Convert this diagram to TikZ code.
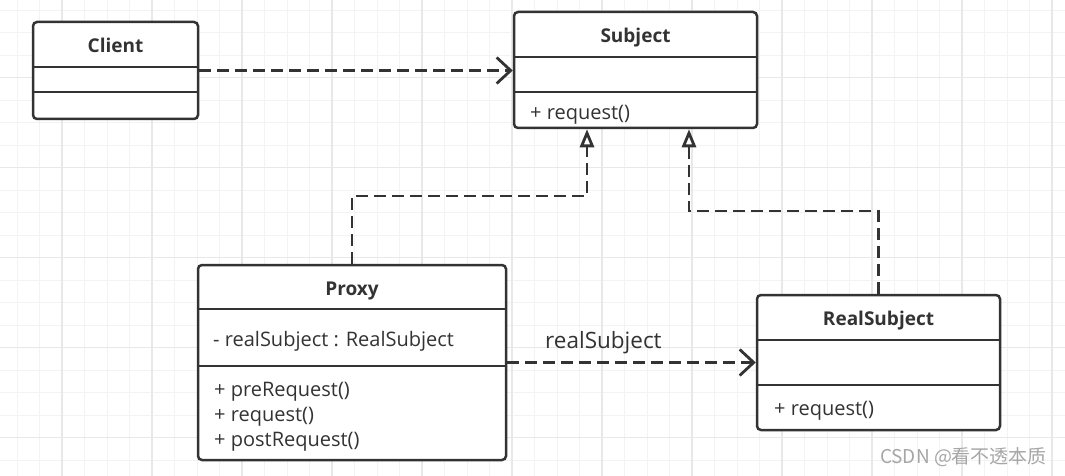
\documentclass[tikz,border=0pt]{standalone}
\usepackage{fontspec}
\setmainfont{Open Sans}
\newfontfamily\cjk{Noto Sans CJK SC}
\usetikzlibrary{arrows.meta}

\definecolor{ink}{HTML}{333333}
\definecolor{gridminor}{HTML}{F3F3F3}
\definecolor{gridmajor}{HTML}{E8E8E8}
\definecolor{markgray}{HTML}{A6A6A6}

\tikzset{
  classbox/.style={draw=ink, line width=2.5pt, rounded corners=4pt, fill=white, inner sep=0pt},
  divider/.style={draw=ink, line width=2.4pt},
  classname/.style={font=\fontsize{19}{22}\selectfont\bfseries, text=ink, anchor=base, inner sep=0pt},
  member/.style={font=\fontsize{20}{24}\selectfont, text=ink, anchor=base west, inner sep=0pt},
  dep/.style={draw=ink, line width=2.8pt, dash pattern=on 12pt off 6pt,
    -{Straight Barb[length=14pt,width=26pt]}},
  realize/.style={draw=ink, line width=2.8pt, dash pattern=on 12pt off 6pt,
    -{Triangle[open,length=18pt,width=14pt]}},
}

\begin{document}
\begin{tikzpicture}[x=1pt,y=-1pt]
\useasboundingbox (0,0) rectangle (1065,476);
\fill[white] (0,0) rectangle (1065,476);

% grid
\foreach \gx in {17,39.5,...,1065} \draw[gridminor, line width=1pt] (\gx,0) -- (\gx,476);
\foreach \gy in {10.2,32.7,...,476} \draw[gridminor, line width=1pt] (0,\gy) -- (1065,\gy);
\foreach \gx in {62,152,...,1065} \draw[gridmajor, line width=1.3pt] (\gx,0) -- (\gx,476);
\foreach \gy in {77.7,167.7,...,476} \draw[gridmajor, line width=1.3pt] (0,\gy) -- (1065,\gy);

% classes
\node[classbox, minimum width=165pt, minimum height=97pt] (client) at (115.5,70.5) {};
\node[classbox, minimum width=243pt, minimum height=116pt] (subject) at (635.5,70) {};
\node[classbox, minimum width=308pt, minimum height=195pt] (proxy) at (352,362.5) {};
\node[classbox, minimum width=243pt, minimum height=135pt] (realsubject) at (878.5,362.5) {};

\draw[divider] ([yshift=-46pt]client.north west) -- ([yshift=-46pt]client.north east);
\draw[divider] ([yshift=-71pt]client.north west) -- ([yshift=-71pt]client.north east);
\draw[divider] ([yshift=-46pt]subject.north west) -- ([yshift=-46pt]subject.north east);
\draw[divider] ([yshift=-81pt]subject.north west) -- ([yshift=-81pt]subject.north east);
\draw[divider] ([yshift=-45pt]proxy.north west) -- ([yshift=-45pt]proxy.north east);
\draw[divider] ([yshift=-102pt]proxy.north west) -- ([yshift=-102pt]proxy.north east);
\draw[divider] ([yshift=-46pt]realsubject.north west) -- ([yshift=-46pt]realsubject.north east);
\draw[divider] ([yshift=-91pt]realsubject.north west) -- ([yshift=-91pt]realsubject.north east);

% names and members
\node[classname] (clientname) at (115.5,53) {Client};
\node[classname] (subjectname) at (635.5,43) {Subject};
\node[classname] (proxyname) at (352,295) {Proxy};
\node[classname] (realname) at (878.5,325) {RealSubject};

\node[member] (subjectop) at (530,120) {+ request()};
\node[member] (proxyattr) at (213,346) {- realSubject : RealSubject};
\node[member] (proxyop1) at (214,396) {+ preRequest()};
\node[member] (proxyop2) at (214,421) {+ request()};
\node[member] (proxyop3) at (214,446) {+ postRequest()};
\node[member] (realop) at (774,415) {+ request()};

% relations
\draw[dep] (client.east) -- (client.east -| subject.west);
\draw[dep] (proxy.east) -- (realsubject.west);
\node[member, font=\fontsize{22.5}{26}\selectfont] (assoc) at (545,348) {realSubject};

\coordinate (kneeL) at (587,196);
\coordinate (kneeR) at (689,211);
\draw[realize] (proxy.north) |- (kneeL) -- (kneeL |- subject.south);
\draw[realize] (realsubject.north) |- (kneeR) -- (kneeR |- subject.south);

\node[text=markgray, font=\cjk\fontsize{19}{22}\selectfont] (mark) at (963.5,457) {CSDN @看不透本质};
\end{tikzpicture}
\end{document}
